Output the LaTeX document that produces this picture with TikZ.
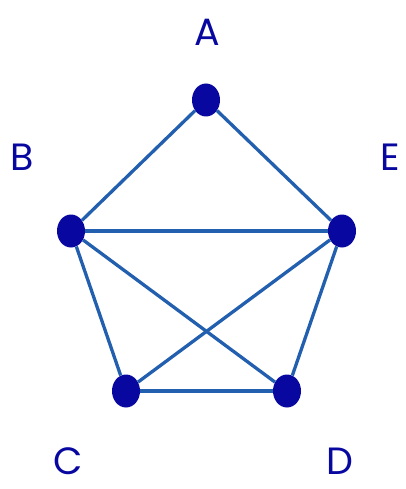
\documentclass[tikz,border=0pt]{standalone}
\usepackage{fontspec}
\setmainfont{Poppins}
\usepackage{tikz}
\usetikzlibrary{shapes.geometric}
\definecolor{vertexcolor}{RGB}{8,8,160}
\definecolor{edgecolor}{RGB}{35,95,175}

\begin{document}
\begin{tikzpicture}[x=1pt,y=-1pt,
  vertex/.style={ellipse,fill=vertexcolor,draw=none,
                 minimum width=28pt,minimum height=33pt,inner sep=0pt},
  edge/.style={edgecolor,line width=3.3pt},
  lbl/.style={text=vertexcolor,font=\fontsize{38}{42}\selectfont,
              text depth=0pt,inner sep=0pt}
]
\useasboundingbox (0,0) rectangle (405,489);
\node[vertex] (A) at (206,100) {};
\node[vertex] (B) at (71,231)  {};
\node[vertex] (E) at (342,231) {};
\node[vertex] (C) at (126,391) {};
\node[vertex] (D) at (287,391) {};
\node[lbl] (la) at (207,32)  {A};
\node[lbl] (lb) at (22,157)  {B};
\node[lbl] (le) at (390,157) {E};
\node[lbl] (lc) at (68,461)  {C};
\node[lbl] (ld) at (340,461) {D};
\draw[edge] (A) -- (B); \draw[edge] (A) -- (E);
\draw[edge] (B) -- (E); \draw[edge] (B) -- (C);
\draw[edge] (B) -- (D); \draw[edge] (E) -- (C);
\draw[edge] (E) -- (D); \draw[edge] (C) -- (D);
\end{tikzpicture}
\end{document}
